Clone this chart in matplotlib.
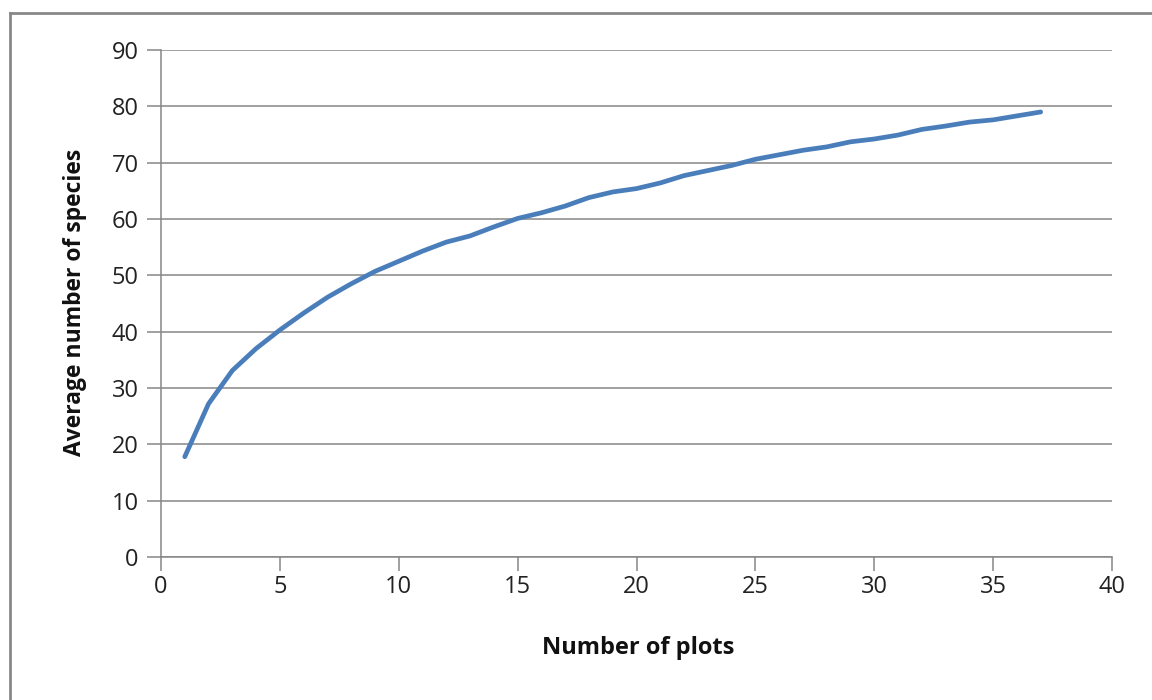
import matplotlib
matplotlib.use("Agg")
import matplotlib.pyplot as plt
from matplotlib.lines import Line2D

plots = list(range(1, 38))
avg_species = [17.8, 27.2, 33.1, 37.0, 40.3, 43.3, 46.1, 48.5, 50.7, 52.5,
               54.3, 55.9, 57.0, 58.6, 60.1, 61.1, 62.3, 63.8, 64.8, 65.4,
               66.4, 67.7, 68.6, 69.5, 70.6, 71.4, 72.2, 72.8, 73.7, 74.2,
               74.9, 75.9, 76.5, 77.2, 77.6, 78.3, 79.0]

x_ticks = [0, 5, 10, 15, 20, 25, 30, 35, 40]
y_ticks = [0, 10, 20, 30, 40, 50, 60, 70, 80, 90]
x_label = "Number of plots"
y_label = "Average number of species"

plt.rcParams['font.family'] = ['Open Sans', 'DejaVu Sans']

W, H = 1152, 700
fig = plt.figure(figsize=(W / 100, H / 100), dpi=100)
ax = fig.add_axes([161 / W, 1 - 557 / H, (1112 - 161) / W, (557 - 50) / H])

ax.plot(plots, avg_species, color='#4A7EBB', linewidth=3.4, solid_capstyle='round')

ax.set_xlim(0, 40)
ax.set_ylim(0, 90)
ax.set_xticks(x_ticks)
ax.set_yticks(y_ticks)
ax.yaxis.grid(True, color='#868686', linewidth=1.1)
ax.set_axisbelow(True)

for s in ['top', 'right']:
    ax.spines[s].set_visible(False)
for s in ['left', 'bottom']:
    ax.spines[s].set_color('#868686')
    ax.spines[s].set_linewidth(1.1)

ax.tick_params(axis='both', direction='out', length=10, width=1.1, color='#868686',
               labelsize=17, labelcolor='#222222')
ax.tick_params(axis='x', pad=3)
ax.tick_params(axis='y', pad=6)

fig.text(638 / W, 1 - 648 / H, x_label, ha='center', va='center',
         fontsize=17, fontweight='bold', color='#111111')
fig.text(75 / W, 1 - 302 / H, y_label, ha='center', va='center', rotation=90,
         fontsize=16.5, fontweight='bold', color='#111111')

# chart frame (top and left edges visible)
fig.add_artist(Line2D([10 / W, 1.0], [1 - 13 / H, 1 - 13 / H], transform=fig.transFigure,
                      color='#888888', linewidth=2))
fig.add_artist(Line2D([10 / W, 10 / W], [1 - 13 / H, 0.0], transform=fig.transFigure,
                      color='#888888', linewidth=2))

fig.savefig('out.png', dpi=100)
